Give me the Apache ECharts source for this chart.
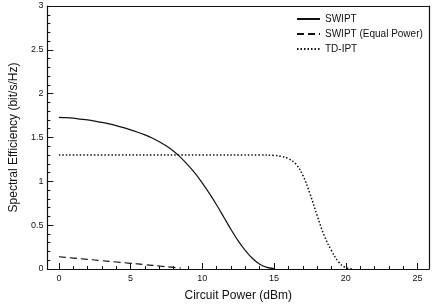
<!DOCTYPE html>
<html><head><meta charset="utf-8">
<script src="https://cdn.jsdelivr.net/npm/echarts@6/dist/echarts.min.js"></script>
<style>html,body{margin:0;padding:0;background:#fff}#c{width:436px;height:308px}</style>
</head><body><div id="c"></div>
<script>
const swiptX = [0,0.5,1,1.5,2,2.5,3,3.5,4,4.5,5,5.5,6,6.5,7,7.5,8,8.5,9,9.5,10,10.5,11,11.5,12,12.5,13,13.5,14,14.5,15];
const swiptY = [1.73,1.727,1.72,1.71,1.70,1.687,1.672,1.655,1.635,1.612,1.587,1.56,1.53,1.494,1.452,1.402,1.343,1.27,1.185,1.09,0.98,0.86,0.73,0.59,0.45,0.32,0.21,0.12,0.055,0.018,0.004];
const equalX = [0,1,2,3,4,5,6,7,8,8.5];
const equalY = [0.14,0.125,0.11,0.095,0.08,0.065,0.05,0.034,0.018,0.01];
const tdX = [0,5,10,14,15,15.5,16,16.5,17,17.5,18,18.5,19,19.5,20,20.5];
const tdY = [1.30,1.30,1.30,1.30,1.295,1.285,1.26,1.20,1.07,0.86,0.61,0.38,0.21,0.08,0.015,0.0];
const xMajor = [0,5,10,15,20,25];
const xMinor = [1,2,3,4,6,7,8,9,11,12,13,14,16,17,18,19,21,22,23,24];
const seriesNames = ['SWIPT','SWIPT (Equal Power)','TD-IPT'];

const zip = (a,b) => a.map((v,i)=>[v,b[i]]);
const font = 'Liberation Sans, Arial, sans-serif';
const ink = '#111';
const chart = echarts.init(document.getElementById('c'), null, {renderer:'canvas'});
chart.setOption({
  animation:false,
  backgroundColor:'#fff',
  grid:{left:38,right:7,top:6,bottom:39},
  legend:{
    orient:'vertical', left:291, top:9, itemWidth:23, itemHeight:10, itemGap:5,
    textStyle:{fontFamily:font,fontSize:10,color:ink},
    itemStyle:{opacity:0},
    data:seriesNames
  },
  xAxis:[{
    type:'value', min:-0.8, max:25.8,
    name:'Circuit Power (dBm)', nameLocation:'middle', nameGap:21,
    nameTextStyle:{fontFamily:font,fontSize:12,color:ink},
    axisLine:{show:true,onZero:false,lineStyle:{color:ink,width:1.2}},
    axisTick:{show:true,inside:true,length:6,customValues:xMajor,lineStyle:{color:ink}},
    axisLabel:{customValues:xMajor,fontFamily:font,fontSize:9,color:ink,margin:5},
    splitLine:{show:false}
  },{
    type:'value', min:-0.8, max:25.8, position:'bottom', offset:0,
    axisLine:{show:false},
    axisTick:{show:true,inside:true,length:3,customValues:xMinor,lineStyle:{color:ink}},
    axisLabel:{show:false},
    splitLine:{show:false}
  },{
    type:'value', min:-0.8, max:25.8, position:'top', offset:0,
    axisLine:{show:true,onZero:false,lineStyle:{color:ink,width:1.2}},
    axisTick:{show:false}, axisLabel:{show:false}, splitLine:{show:false}
  }],
  yAxis:[{
    type:'value', min:0, max:3, interval:0.5, position:'left',
    name:'Spectral Efficiency (bit/s/Hz)', nameLocation:'middle', nameGap:23,
    nameTextStyle:{fontFamily:font,fontSize:12,color:ink},
    axisLine:{show:true,onZero:false,lineStyle:{color:ink,width:1.2}},
    axisTick:{show:true,inside:true,length:6,lineStyle:{color:ink}},
    minorTick:{show:true,splitNumber:5,length:3,lineStyle:{color:ink}},
    axisLabel:{fontFamily:font,fontSize:9,color:ink,margin:4},
    splitLine:{show:false}
  },{
    type:'value', min:0, max:3, interval:0.5, position:'right',
    axisLine:{show:true,onZero:false,lineStyle:{color:ink,width:1.2}},
    axisTick:{show:false}, axisLabel:{show:false}, splitLine:{show:false}
  }],
  series:[
    {name:seriesNames[0],type:'line',data:zip(swiptX,swiptY),smooth:0.3,showSymbol:false,symbol:'none',
     lineStyle:{color:ink,width:1.2,type:'solid'},itemStyle:{color:ink}},
    {name:seriesNames[1],type:'line',data:zip(equalX,equalY),smooth:true,showSymbol:false,symbol:'none',
     lineStyle:{color:ink,width:1.2,type:[7,4]},itemStyle:{color:ink}},
    {name:seriesNames[2],type:'line',data:zip(tdX,tdY),smooth:0.4,showSymbol:false,symbol:'none',
     lineStyle:{color:ink,width:1.5,type:[1.5,2]},itemStyle:{color:ink}}
  ]
});
</script></body></html>
